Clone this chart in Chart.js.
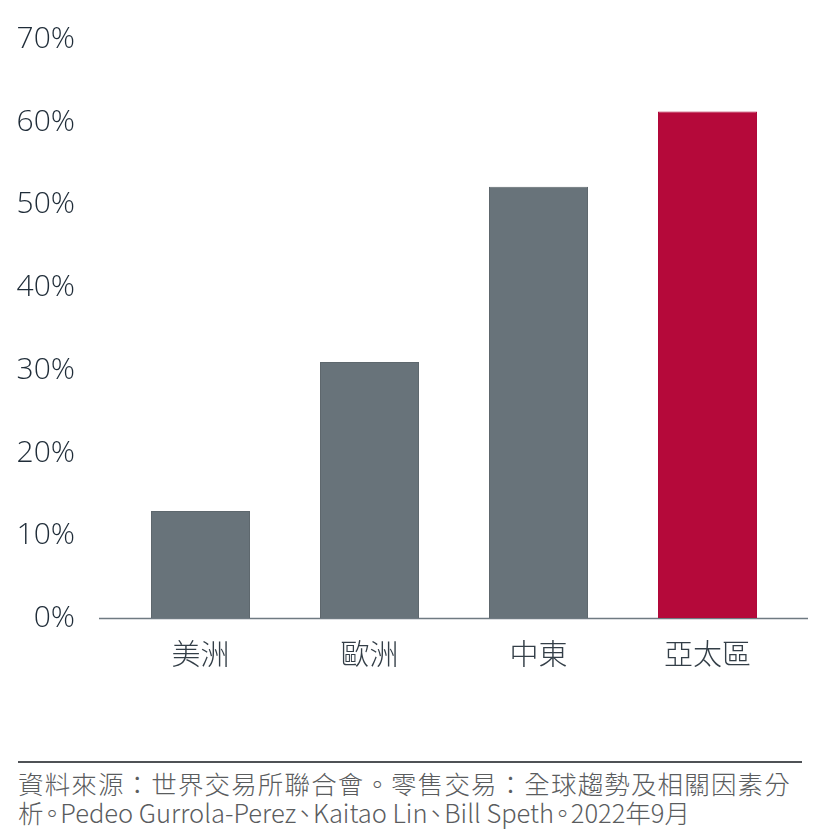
<!DOCTYPE html>
<html>
<head>
<meta charset="utf-8">
<script src="https://cdn.jsdelivr.net/npm/chart.js@4/dist/chart.umd.min.js"></script>
<style>
  html, body { margin: 0; padding: 0; background: #fff; }
  #wrap { position: relative; width: 820px; height: 839px; overflow: hidden; }
  #chartBox { position: absolute; left: 0; top: 0; width: 820px; height: 700px; }
  #rule { position: absolute; left: 18px; top: 761px; width: 784px; height: 2px; background: #4f5256; }
  #source { position: absolute; left: 18px; top: 768px; font-family: "Noto Sans CJK TC", sans-serif; font-weight: 300; font-size: 25.5px; line-height: 29px; color: #5a5c5e; white-space: nowrap; }
  #source .l1 { letter-spacing: 1.15px; }
  #source .l2 { font-feature-settings: "palt" 1; }
  #source .p { margin: 0 2px; }
</style>
</head>
<body>
<div id="wrap">
  <div id="chartBox"><canvas id="c"></canvas></div>
  <div id="rule"></div>
  <div id="source"><span class="l1">資料來源：世界交易所聯合會。零售交易：全球趨勢及相關因素分</span><br><span class="l2">析<span class="p">。</span>Pedeo Gurrola-Perez<span class="p">、</span>Kaitao Lin<span class="p">、</span>Bill Speth<span class="p">。</span>2022年9月</span></div>
</div>
<script>
const categories = ["美洲", "歐洲", "中東", "亞太區"];
const values = [13, 31, 52.2, 61.3];
const barColors = ["#68737a", "#68737a", "#68737a", "#b5093a"];
const borderColors = ["#5e686e", "#5e686e", "#5e686e", "#b0083a"];
const yTicks = [0, 10, 20, 30, 40, 50, 60, 70];

const baseLine = {
  id: 'baseLine',
  beforeDatasetsDraw(chart) {
    const ctx = chart.ctx;
    const area = chart.chartArea;
    const y = chart.scales.y.getPixelForValue(0);
    ctx.save();
    ctx.strokeStyle = '#6f7a82';
    ctx.lineWidth = 1.5;
    ctx.beginPath();
    ctx.moveTo(area.left - 17, y);
    ctx.lineTo(area.right + 16, y);
    ctx.stroke();
    ctx.restore();
  }
};

new Chart(document.getElementById('c'), {
  type: 'bar',
  data: {
    labels: categories,
    datasets: [{
      data: values,
      backgroundColor: barColors,
      borderColor: borderColors,
      borderWidth: 1,
      barPercentage: 0.586,
      categoryPercentage: 1.0
    }]
  },
  options: {
    responsive: true,
    maintainAspectRatio: false,
    animation: false,
    devicePixelRatio: 1,
    layout: { padding: { top: 39.5, right: 28, bottom: 21.5, left: 0 } },
    plugins: { legend: { display: false }, tooltip: { enabled: false } },
    scales: {
      x: {
        grid: { display: false, drawTicks: false },
        border: { display: false },
        ticks: {
          padding: 18,
          color: '#333e47',
          font: { family: '"Noto Sans CJK TC", sans-serif', size: 29, weight: 300 }
        },
        afterFit(scale) { scale.height = 60; }
      },
      y: {
        min: 0,
        max: 70,
        afterBuildTicks(scale) { scale.ticks = yTicks.map(v => ({ value: v })); },
        grid: { display: true, drawOnChartArea: false, drawTicks: true, tickLength: 37, tickColor: 'rgba(0,0,0,0)' },
        border: { display: false },
        ticks: {
          padding: 4,
          color: '#1f2c38',
          font: { family: '"Open Sans", sans-serif', size: 30, weight: 300 },
          callback: v => v + '%'
        },
        afterFit(scale) { scale.width = 116; }
      }
    }
  },
  plugins: [baseLine]
});
</script>
</body>
</html>
